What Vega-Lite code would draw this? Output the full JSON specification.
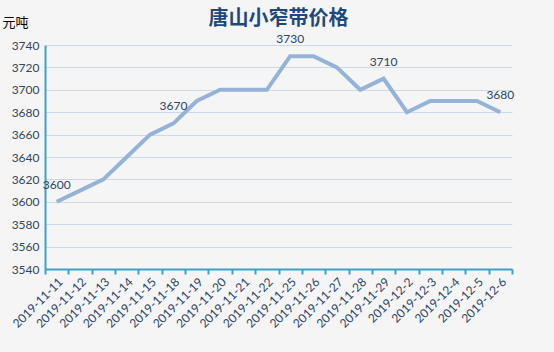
{
  "$schema": "https://vega.github.io/schema/vega-lite/v6.json",
  "autosize": "none",
  "width": 467,
  "height": 224,
  "padding": {"left": 45, "top": 45, "right": 42, "bottom": 83},
  "background": "#f5f5f5",
  "config": {"view": {"stroke": null}, "font": "Lato"},
  "title": {"text": "唐山小窄带价格", "font": "Noto Sans CJK SC", "fontSize": 20, "fontWeight": "bold", "color": "#1F497D", "offset": 12, "dy": 25, "anchor": "middle"},
  "data": {"values": [
    {"date": "2019-11-11", "price": 3600, "lab": "3600"},
    {"date": "2019-11-12", "price": 3610, "lab": null},
    {"date": "2019-11-13", "price": 3620, "lab": null},
    {"date": "2019-11-14", "price": 3640, "lab": null},
    {"date": "2019-11-15", "price": 3660, "lab": null},
    {"date": "2019-11-18", "price": 3670, "lab": "3670"},
    {"date": "2019-11-19", "price": 3690, "lab": null},
    {"date": "2019-11-20", "price": 3700, "lab": null},
    {"date": "2019-11-21", "price": 3700, "lab": null},
    {"date": "2019-11-22", "price": 3700, "lab": null},
    {"date": "2019-11-25", "price": 3730, "lab": "3730"},
    {"date": "2019-11-26", "price": 3730, "lab": null},
    {"date": "2019-11-27", "price": 3720, "lab": null},
    {"date": "2019-11-28", "price": 3700, "lab": null},
    {"date": "2019-11-29", "price": 3710, "lab": "3710"},
    {"date": "2019-12-2", "price": 3680, "lab": null},
    {"date": "2019-12-3", "price": 3690, "lab": null},
    {"date": "2019-12-4", "price": 3690, "lab": null},
    {"date": "2019-12-5", "price": 3690, "lab": null},
    {"date": "2019-12-6", "price": 3680, "lab": "3680"}
  ]},
  "encoding": {
    "x": {"field": "date", "type": "ordinal", "sort": null, "bandPosition": 0.5,
      "scale": {"type": "band", "paddingInner": 0, "paddingOuter": 0},
      "axis": {"title": null, "labelAngle": -45, "labelFontSize": 12, "labelColor": "#2B4468", "domainColor": "#3BA3C4", "domainWidth": 2, "tickColor": "#3BA3C4", "tickWidth": 2, "tickSize": 5, "tickBand": "extent", "labelPadding": 2, "grid": false}},
    "y": {"field": "price", "type": "quantitative",
      "scale": {"domain": [3540, 3740], "nice": false, "zero": false},
      "axis": {"values": [3540, 3560, 3580, 3600, 3620, 3640, 3660, 3680, 3700, 3720, 3740], "format": "d", "labelFontSize": 12, "labelColor": "#36465A", "domainColor": "#3BA3C4", "domainWidth": 2, "ticks": false, "labelPadding": 6, "gridColor": "#C9DAEC", "gridWidth": 1,
        "title": "元吨", "titleAngle": 0, "titleFont": "Noto Sans CJK SC", "titleFontSize": 13, "titleFontWeight": "normal", "titleColor": "#000000", "titleAlign": "left", "titleBaseline": "middle", "titleX": -43, "titleY": -23}}
  },
  "layer": [
    {"mark": {"type": "line", "color": "#95B3D7", "strokeWidth": 4, "strokeJoin": "miter"}},
    {"transform": [{"filter": "datum.lab != null"}],
      "mark": {"type": "text", "dy": -17, "fontSize": 12, "color": "#2B4468"},
      "encoding": {"text": {"field": "lab"}}}
  ]
}
